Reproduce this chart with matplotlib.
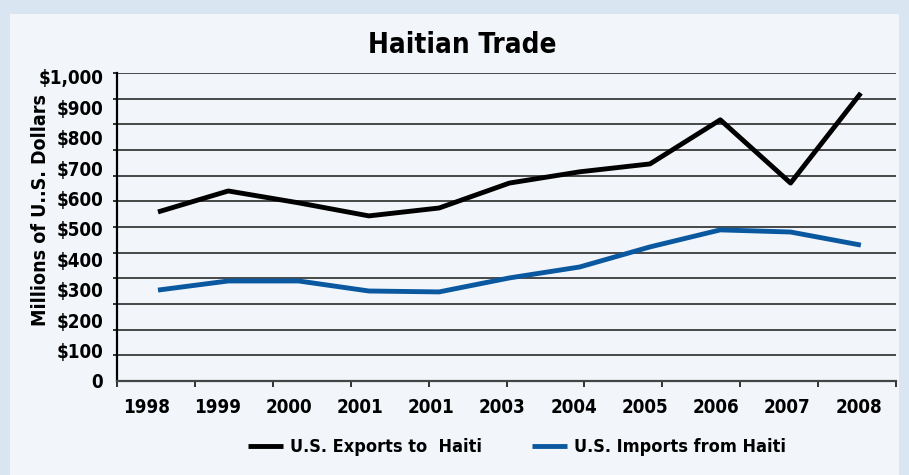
import matplotlib.pyplot as plt
import numpy as np
from matplotlib.patches import Rectangle

plt.rcParams['font.family'] = ['DejaVu Sans']
plt.rcParams['font.stretch'] = 'condensed'
plt.rcParams['font.weight'] = 'bold'

years = ["1998", "1999", "2000", "2001", "2001", "2003",
         "2004", "2005", "2006", "2007", "2008"]
exports = [556, 625, 586, 543, 569, 651, 688, 714, 859, 651, 947]
imports = [299, 329, 329, 296, 293, 339, 375, 441, 497, 490, 447]
ytick_vals = [0, 100, 200, 300, 400, 500, 600, 700, 800, 900, 1000]
ytick_labels = ["0", "$100", "$200", "$300", "$400", "$500", "$600",
                "$700", "$800", "$900", "$1,000"]

W, H = 909, 475
fig = plt.figure(figsize=(W / 100, H / 100), dpi=100)
fig.patch.set_facecolor('#d9e5f1')
fig.add_artist(Rectangle((10 / W, 0), 889 / W, 1 - 14 / H,
                         transform=fig.transFigure, facecolor='#f2f6fb',
                         edgecolor='none', zorder=0))

ax = fig.add_axes([117 / W, 1 - 381 / H, (896 - 117) / W, (381 - 73) / H])
ax.set_facecolor('none')

x = np.arange(len(years))
ax.plot(x, exports, color='black', lw=3.5, solid_capstyle='butt',
        label='U.S. Exports to  Haiti', zorder=3)
ax.plot(x, imports, color='#0a58a0', lw=3.5, solid_capstyle='butt',
        label='U.S. Imports from Haiti', zorder=3)

xmin, xmax = -0.583, 10.5
ymax = 1013
ax.set_xlim(xmin, xmax)
ax.set_ylim(0, ymax)

# tick labels (no marks)
ax.set_xticks(np.linspace(-0.17, 9.97, len(years)))
ax.set_xticklabels(years, fontsize=13.5, fontweight='bold')
ax.set_yticks(ytick_vals)
ax.set_yticklabels(ytick_labels, fontsize=13.5, fontweight='bold')
ax.tick_params(axis='both', which='major', length=0, pad=10)
ax.tick_params(axis='x', which='major', pad=12)

# tick marks and grid lines
ax.set_xticks(np.linspace(xmin, xmax, 11), minor=True)
ax.set_yticks(np.linspace(0, ymax, 13), minor=True)
ax.tick_params(axis='x', which='minor', length=4, width=1.3, direction='out', color='#222')
ax.tick_params(axis='y', which='minor', length=3, width=1.3, direction='out', color='#222')
ax.grid(axis='y', which='minor', color='#3a3a3a', lw=1.3)
ax.set_axisbelow(True)

for s in ['top', 'right']:
    ax.spines[s].set_visible(False)
ax.spines['left'].set_color('black')
ax.spines['left'].set_linewidth(1.6)
ax.spines['bottom'].set_color('#444')
ax.spines['bottom'].set_linewidth(1.6)

fig.text(462 / W, 1 - 45 / H, 'Haitian Trade', ha='center', va='center',
         fontsize=20, fontweight='bold')
fig.text(41 / W, 1 - 210 / H, 'Millions of U..S. Dollars', ha='center',
         va='center', rotation=90, fontsize=14, fontweight='bold')

fig.legend(loc='center', bbox_to_anchor=(517 / W, 1 - 447 / H), ncol=2,
           frameon=False, fontsize=13, handlelength=1.9, columnspacing=2.8,
           handletextpad=0.4)

fig.savefig('out.png', dpi=100, facecolor=fig.get_facecolor())
